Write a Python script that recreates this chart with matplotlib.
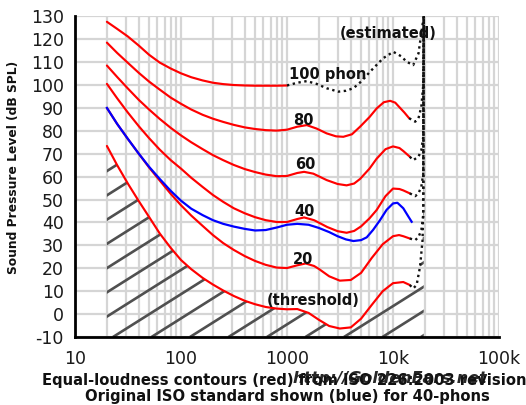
import numpy as np
import matplotlib
matplotlib.use("Agg")
import matplotlib.pyplot as plt
from matplotlib.patches import Polygon
from matplotlib.ticker import LogLocator, NullFormatter, FixedLocator

plt.rcParams["axes.unicode_minus"] = False

# ---------------- data ----------------
thr_f = [20, 25, 31.5, 40, 50, 63, 80, 100, 125, 160, 200, 250, 315, 400, 500, 630, 800,
         1000, 1250, 1600, 2000, 2500, 3150, 4000, 5000, 6300, 8000, 10000, 12500, 14400]
thr_db = [73.4, 65.0, 57.0, 49.3, 42.4, 35.2, 28.9, 23.6, 19.6, 15.8, 12.9, 10.3, 7.9, 5.8, 4.3,
          3.1, 2.4, 2.1, 2.2, 0.5, -2.5, -5.2, -6.3, -5.8, -2.0, 4.0, 10.0, 13.5, 14.0, 12.7]

p20_f = [20, 25, 31.5, 40, 50, 63, 80, 100, 125, 160, 200, 250, 315, 400, 500, 630, 800,
         1000, 1250, 1500, 1800, 2000, 2500, 3150, 4000, 5000, 6300, 8000, 10000, 11400, 12500, 14400]
p20_db = [90.0, 83.0, 76.5, 70.0, 64.0, 58.3, 52.5, 47.5, 43.0, 38.5, 34.5, 31.0, 28.0, 25.3, 23.2,
          21.5, 20.3, 20.1, 21.3, 22.1, 21.0, 19.7, 16.5, 14.6, 14.9, 18.0, 24.5, 30.5, 34.0, 34.5, 34.0, 33.0]

p40_f = [20, 25, 31.5, 40, 50, 63, 80, 100, 125, 160, 200, 250, 315, 400, 500, 630, 800,
         1000, 1250, 1450, 1800, 2400, 3000, 3650, 4300, 5000, 6000, 7000, 8500, 10000, 11500, 12500, 14400]
p40_db = [100.5, 94.2, 88.0, 82.0, 76.8, 71.8, 67.2, 63.5, 59.5, 55.5, 52.0, 49.0, 46.2, 44.0, 42.3,
          41.0, 40.2, 40.2, 41.5, 42.2, 41.0, 38.0, 36.2, 35.5, 36.3, 38.3, 41.8, 45.4, 51.5, 54.8, 54.6, 54.0, 52.7]

p60_f = [20, 25, 31.5, 40, 50, 63, 80, 100, 125, 160, 200, 250, 315, 400, 500, 630, 800,
         1000, 1250, 1450, 1772, 2368, 3000, 3650, 4300, 4890, 6000, 7000, 8500, 10000, 11500, 12500, 14400]
p60_db = [108.5, 103.5, 98.5, 93.5, 89.3, 85.2, 81.3, 78.0, 75.0, 72.0, 69.4, 67.2, 65.1, 63.3, 62.0,
          60.9, 60.2, 60.3, 61.6, 62.1, 61.3, 58.5, 56.8, 56.2, 57.0, 59.0, 63.5, 67.8, 72.0, 73.2, 72.5, 71.2, 68.7]

p80_f = [20, 25, 31.5, 40, 50, 63, 80, 100, 125, 160, 200, 250, 315, 400, 500, 630, 800,
         1000, 1250, 1535, 1900, 2363, 2900, 3400, 4100, 4890, 6000, 7020, 8200, 9400, 10500, 11400, 12800, 14200]
p80_db = [118.5, 114.0, 109.7, 105.3, 101.5, 98.0, 94.5, 91.8, 89.3, 87.0, 85.3, 83.9, 82.6, 81.5, 80.8,
          80.3, 80.1, 80.5, 81.8, 82.5, 81.0, 78.9, 77.6, 77.4, 78.5, 81.8, 86.0, 89.8, 92.5, 93.1, 92.3, 90.5, 88.0, 85.5]

p100_f = [20, 25, 31.5, 40, 50, 63, 80, 100, 125, 160, 200, 250, 315, 400, 500, 630, 800, 1000]
p100_db = [127.6, 124.5, 121.2, 117.2, 113.2, 109.8, 107.2, 105.1, 103.4, 102.0, 101.0, 100.4,
           100.0, 99.8, 99.7, 99.7, 99.7, 99.8]

blue_f = [20, 25, 31.5, 40, 50, 63, 80, 100, 125, 160, 200, 250, 315, 400, 500, 630, 800, 1000,
          1250, 1600, 2000, 2500, 3000, 3600, 4230, 5000, 5650, 6500, 7540, 8700, 10000, 11000, 12500, 14000, 15000]
blue_db = [90.0, 83.0, 76.5, 70.0, 64.3, 59.0, 53.8, 49.5, 46.0, 43.2, 41.0, 39.4, 38.2, 37.2, 36.5,
           36.7, 37.8, 39.0, 39.4, 39.0, 37.6, 35.8, 34.0, 32.6, 31.9, 32.3, 33.5, 36.8, 41.0, 45.5,
           48.3, 48.6, 46.2, 42.5, 40.3]

# estimated (dotted) extensions
e100_f = [1000, 1250, 1535, 1900, 2363, 3050, 3600, 4230, 5000, 6070, 8070, 10070, 12000, 13400,
          15500, 17400, 18500, 19300, 19500]
e100_db = [99.8, 101.0, 101.7, 100.5, 98.6, 97.1, 97.5, 98.6, 101.5, 105.8, 111.7, 114.5, 112.5,
           110.2, 108.7, 113.8, 122.6, 128.5, 130.0]
e80_f = [14200, 16200, 17400, 18500, 19300, 19500]
e80_db = [85.5, 84.0, 85.5, 90.5, 100.0, 130.0]
e60_f = [14400, 15500, 17400, 18500, 19300, 19500]
e60_db = [68.7, 67.2, 68.7, 71.6, 77.4, 130.0]
e40_f = [14400, 16200, 17400, 18500, 19300, 19500]
e40_db = [52.7, 51.5, 52.7, 55.6, 61.4, 130.0]
e20_f = [14400, 16200, 17400, 18500, 19300, 19500]
e20_db = [33.0, 32.3, 33.6, 36.7, 43.0, 130.0]
ethr_f = [14400, 15500, 16700, 18000, 19000, 19300, 19500]
ethr_db = [12.7, 11.2, 12.7, 20.7, 32.3, 46.8, 130.0]

labels = ["100 phon", "80", "60", "40", "20", "(threshold)", "(estimated)"]
label_f = [2410, 1416, 1479, 1479, 1416, 1770, 9080]
label_db = [104.8, 84.4, 65.1, 44.7, 23.9, 6.1, 122.6]

xtick_vals = [10, 100, 1000, 10000, 100000]
xtick_labels = ["10", "100", "1000", "10k", "100k"]
ytick_vals = list(range(-10, 131, 10))

# ---------------- figure ----------------
W, H = 526, 405
fig = plt.figure(figsize=(W / 100, H / 100), dpi=100)
ax_l, ax_r, ax_t, ax_b = 75, 499, 16.3, 337
ax = fig.add_axes([ax_l / W, 1 - ax_b / H, (ax_r - ax_l) / W, (ax_b - ax_t) / H])
ax.set_xscale("log")
ax.set_xlim(10, 100000)
ax.set_ylim(-10, 130)

ax.xaxis.set_major_locator(FixedLocator(xtick_vals))
ax.set_xticklabels(xtick_labels)
ax.xaxis.set_minor_locator(LogLocator(base=10, subs=range(2, 10), numticks=20))
ax.xaxis.set_minor_formatter(NullFormatter())
ax.set_yticks(ytick_vals)
ax.grid(True, which="both", color="#d5d5d5", lw=1.6, zorder=0)
ax.set_axisbelow(True)
ax.tick_params(which="both", length=0, labelsize=12.5, labelcolor="#1a1a1a")
ax.tick_params(axis="x", pad=9)
ax.tick_params(axis="y", pad=8)
for s in ["top", "right"]:
    ax.spines[s].set_visible(False)
for s in ["left", "bottom"]:
    ax.spines[s].set_linewidth(2.0)
    ax.spines[s].set_color("black")
    ax.spines[s].set_zorder(6)

# ---------------- hatched region below threshold ----------------
ymin = ax.get_ylim()[0]
poly_x = list(thr_f) + list(ethr_f[1:]) + [ethr_f[-1], thr_f[0]]
poly_y = list(thr_db) + list(ethr_db[1:]) + [ymin, ymin]
clip = Polygon(np.column_stack([poly_x, poly_y]), closed=True, transform=ax.transData,
               facecolor="none", edgecolor="none")
ax.add_patch(clip)
aw, ah = ax_r - ax_l, ax_b - ax_t
slope = 0.63
spacing = 38.5
start = (113 - ax_l) - spacing * 12
for xb in np.arange(start, aw + spacing, spacing):
    x0, y0 = xb, 0.0
    x1, y1 = xb + ah / slope, ah
    ln, = ax.plot([x0 / aw, x1 / aw], [y0 / ah, y1 / ah], transform=ax.transAxes,
                  color="#505050", lw=1.9, solid_capstyle="butt", zorder=2)
    ln.set_clip_path(clip)

# ---------------- curves ----------------
red_kw = dict(color="#ff0000", lw=1.55, zorder=4, solid_capstyle="round")
for f, d in [(thr_f, thr_db), (p20_f, p20_db), (p40_f, p40_db), (p60_f, p60_db),
             (p80_f, p80_db), (p100_f, p100_db)]:
    ax.plot(f, d, **red_kw)
ax.plot(blue_f, blue_db, color="#0000ff", lw=1.6, zorder=5)

dot_kw = dict(color="#111111", lw=1.7, ls=(0, (1, 1.5)), zorder=4)
for f, d in [(e100_f, e100_db), (e80_f, e80_db), (e60_f, e60_db), (e40_f, e40_db),
             (e20_f, e20_db), (ethr_f, ethr_db)]:
    ax.plot(f, d, **dot_kw)

for t, f, d in zip(labels, label_f, label_db):
    ax.text(f, d, t, ha="center", va="center", fontsize=10.5, fontweight="bold",
            color="#111111", zorder=7)

# ---------------- axis titles ----------------
ax.set_ylabel("Sound Pressure Level (dB SPL)", fontsize=8.8, fontweight="bold", color="#111111")
ax.yaxis.set_label_coords((20 - ax_l) / aw, (ax_b - 167) / ah)

cx = (ax_l + ax_r) / 2 / W
fig.text(cx - 3 / W, 1 - 380 / H, "Equal-loudness contours (red) from ISO 226:2003 revision",
         ha="center", va="center", fontsize=10.6, fontweight="bold", color="#111111")
fig.text(cx, 1 - 396.5 / H, "Original ISO standard shown (blue) for 40-phons",
         ha="center", va="center", fontsize=10.6, fontweight="bold", color="#111111")
fig.text(390 / W, 1 - 379 / H, "http://GoldenEars.net", ha="center", va="center",
         fontsize=11.5, fontweight="bold", fontstyle="italic", color="#151515", alpha=0.92)

fig.savefig("out.png", dpi=100)
